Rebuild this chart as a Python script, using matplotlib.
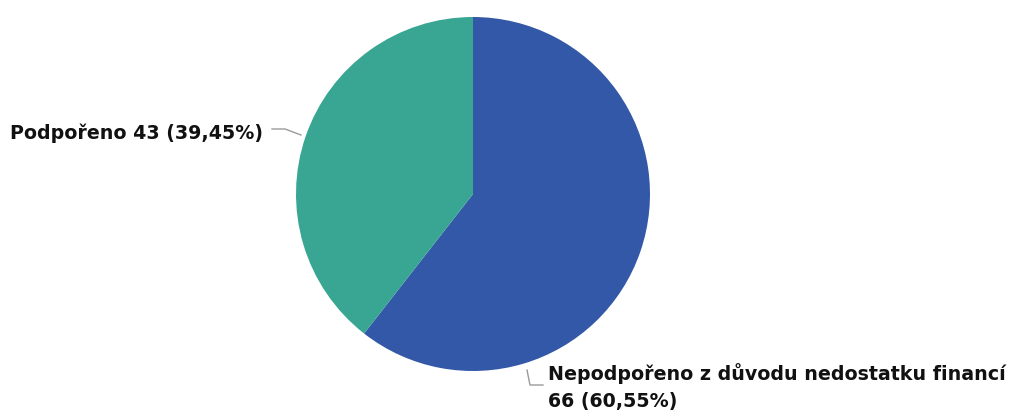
import numpy as np
import matplotlib.pyplot as plt

# data
labels = ["Nepodpořeno z důvodu nedostatku financí", "Podpořeno"]
counts = [66, 43]
colors = ["#3358A8", "#38A692"]

W, H = 1016, 412
fig = plt.figure(figsize=(W / 100, H / 100), dpi=100)
ax = fig.add_axes([0, 0, 1, 1])

cx, cy, r = 473, H - 194, 177
ax.pie(counts, colors=colors, startangle=90, counterclock=False,
       center=(cx, cy), radius=r, frame=True,
       wedgeprops=dict(linewidth=0))
ax.set_xlim(0, W)
ax.set_ylim(0, H)
ax.set_aspect("equal")
ax.axis("off")

total = sum(counts)
pct = [c / total * 100 for c in counts]

def fmt(p):
    return ("%.2f" % p).replace(".", ",")

font = dict(family=["DejaVu Sans"], fontweight="bold", fontsize=13.7, color="#111111")
line_col = "#9a9a9a"

# left label (Podpořeno)
ax.plot([272, 285, 301], [H - 129, H - 129, H - 135], color=line_col, lw=1)
ax.text(10, H - 133, "%s %d (%s%%)" % (labels[1], counts[1], fmt(pct[1])),
        ha="left", va="center", **font)

# bottom-right label
ax.plot([527, 530, 543], [H - 370, H - 385, H - 385], color=line_col, lw=1)
ax.text(548, H - 374, labels[0], ha="left", va="center", **font)
ax.text(548, H - 402, "%d (%s%%)" % (counts[0], fmt(pct[0])), ha="left", va="center", **font)

fig.savefig("out.png", dpi=100)
